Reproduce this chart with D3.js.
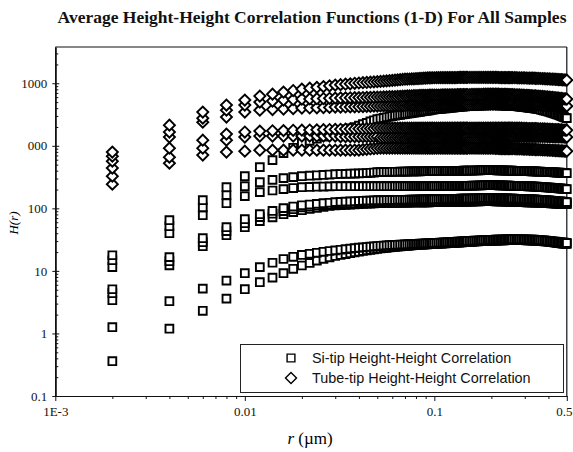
<!DOCTYPE html>
<html lang="en">
<head>
<meta charset="utf-8">
<title>Average Height-Height Correlation Functions</title>
<script src="https://cdnjs.cloudflare.com/ajax/libs/d3/7.8.5/d3.min.js"></script>
<style>
  body { margin: 0; background: #fff; }
  .tick text { font-family: "Liberation Serif", "Times New Roman", serif; font-size: 13px; fill: #111; }
  .tick line, .domain { stroke: #111; }
</style>
</head>
<body>
<script>
// sampled distances r (um), shared by every series
var rValues = [
  0.002,0.004,0.006,0.008,0.01,0.012,0.014,0.016,0.018,0.02,
  0.022,0.024,0.026,0.028,0.03,0.032,0.034,0.036,0.038,0.04,
  0.042,0.044,0.046,0.048,0.05,0.052,0.054,0.056,0.058,0.06,
  0.062,0.064,0.066,0.068,0.07,0.072,0.074,0.076,0.078,0.08,
  0.082,0.084,0.086,0.088,0.09,0.092,0.094,0.096,0.098,0.1,
  0.1025,0.105,0.1075,0.11,0.1125,0.115,0.1175,0.12,0.1225,0.125,
  0.1275,0.13,0.1325,0.135,0.1375,0.14,0.1425,0.145,0.1475,0.15,
  0.154,0.158,0.162,0.166,0.17,0.174,0.178,0.182,0.186,0.19,
  0.194,0.198,0.202,0.206,0.21,0.214,0.218,0.222,0.226,0.23,
  0.234,0.238,0.242,0.246,0.25,0.254,0.258,
  0.264,0.27,0.276,0.282,0.288,0.294,0.3,0.306,0.312,0.318,
  0.324,0.33,0.336,0.342,0.348,
  0.356,0.364,0.372,0.38,0.388,0.396,0.404,0.412,0.42,0.428,
  0.436,0.444,0.452,0.46,0.468,0.476,0.484,0.492,0.5
];

// Si-tip series (squares)
var siTip1 = [
  0.36,1.19,2.3,3.6,5.1,6.6,7.8,9.2,10.8,12.2,
  13.4,14.6,15.6,16.5,17.3,18,18.6,19.2,19.8,20.3,
  20.8,21.3,21.7,22.1,22.5,22.8,23.1,23.4,23.7,24,
  24.2,24.4,24.6,24.8,25,25.2,25.4,25.6,25.8,26,
  26.1,26.2,26.3,26.4,26.5,26.6,26.7,26.8,26.9,27,
  27.1,27.2,27.3,27.4,27.5,27.6,27.7,27.8,27.9,28,
  28.1,28.2,28.3,28.4,28.5,28.6,28.7,28.8,28.9,29,
  29.1,29.2,29.4,29.5,29.6,29.8,29.9,30,30.1,30.2,
  30.3,30.4,30.5,30.5,30.6,30.6,30.7,30.7,30.8,30.8,
  30.8,30.9,30.9,30.9,31,31,31,
  31,31,31,31,31,30.9,30.9,30.8,30.8,30.7,
  30.7,30.6,30.6,30.5,30.5,
  30.3,30.1,29.9,29.7,29.5,29.3,29.1,28.9,28.7,28.5,
  28.3,28.1,27.9,27.7,27.6,27.4,27.3,27.1,27
];
var siTip2 = [
  1.26,3.28,5.2,7,9.2,11.5,13.5,15.5,16.8,18,
  18.8,19.5,20.2,20.8,21.3,21.8,22.3,22.7,23.1,23.5,
  23.8,24.1,24.4,24.7,25,25.2,25.4,25.6,25.8,26,
  26.1,26.2,26.3,26.4,26.5,26.6,26.7,26.8,26.9,27,
  27.1,27.2,27.3,27.4,27.5,27.6,27.7,27.8,27.9,28,
  28.1,28.2,28.3,28.4,28.5,28.6,28.7,28.8,28.9,29,
  29.1,29.2,29.3,29.4,29.5,29.6,29.7,29.8,29.9,30,
  30.1,30.2,30.4,30.5,30.6,30.8,30.9,31,31.1,31.2,
  31.3,31.4,31.5,31.5,31.6,31.6,31.7,31.7,31.8,31.8,
  31.8,31.9,31.9,31.9,32,32,32,
  32,32,32,32,32,31.9,31.9,31.8,31.8,31.7,
  31.7,31.6,31.6,31.5,31.5,
  31.3,31.1,30.9,30.7,30.5,30.3,30.1,29.9,29.7,29.5,
  29.3,29.1,28.9,28.7,28.6,28.4,28.3,28.1,28
];
var siTip3 = [
  3.4,12.3,24.8,37.2,50,62.4,72,80.7,87,93.5,
  98,102,106,109,112,113,114,115,116,117,
  118,119,119,120,121,121,121,122,122,122,
  122,122,123,123,123,123,123,124,124,124,
  124,124,125,125,125,125,125,126,126,126,
  126,126,126,126,126,127,127,127,127,127,
  127,127,127,127,128,128,128,128,128,128,
  128,128,129,129,129,129,130,130,130,130,
  130,130,130,130,129,129,129,129,129,129,
  129,128,128,128,128,128,128,
  128,127,127,127,126,126,126,125,125,125,
  124,124,124,123,123,
  123,122,122,122,121,121,121,120,120,120,
  119,119,119,118,118,118,117,117,117
];
var siTip4 = [
  4.4,14.3,28.8,43.2,57.9,72.3,82,90.2,97,104,
  107,110,113,115,117,118,119,120,121,122,
  123,124,124,125,126,126,126,126,127,127,
  127,127,127,128,128,128,128,128,128,129,
  129,129,129,129,129,129,130,130,130,130,
  130,130,130,131,131,131,131,131,132,132,
  132,132,132,132,133,133,133,133,133,133,
  133,133,134,134,134,134,135,135,135,135,
  135,135,135,135,134,134,134,134,134,134,
  134,133,133,133,133,133,133,
  133,132,132,132,131,131,131,130,130,130,
  129,129,129,128,128,
  128,127,127,126,126,126,125,125,124,124,
  124,123,123,123,122,122,121,121,121
];
var siTip5 = [
  5.09,16.6,33.3,50,67.1,80.7,91,100.7,107,112,
  115,118,121,123,126,127,128,129,130,131,
  132,133,133,134,135,135,135,136,136,136,
  136,137,137,137,137,137,138,138,138,138,
  138,139,139,139,139,139,139,140,140,140,
  140,140,140,141,141,141,141,141,142,142,
  142,142,142,142,143,143,143,143,143,143,
  143,144,144,144,145,145,145,146,146,146,
  146,146,146,146,145,145,145,145,144,144,
  144,144,143,143,143,143,143,
  143,142,142,142,141,141,141,140,140,140,
  139,139,139,138,138,
  137,137,136,135,135,134,134,133,132,132,
  131,130,130,129,128,128,127,127,126
];
var siTip6 = [
  11.5,40.1,77.8,121,157,182,193,203,211,218,
  220,222,223,225,226,226,226,226,226,226,
  226,226,226,226,226,226,226,226,226,226,
  226,226,226,226,226,226,226,226,226,226,
  226,226,226,226,226,226,226,226,226,226,
  226,226,227,227,227,227,228,228,228,228,
  228,229,229,229,229,229,230,230,230,230,
  230,231,231,232,232,233,233,234,234,235,
  235,235,235,234,234,234,233,233,233,232,
  232,232,231,231,231,230,230,
  229,229,228,228,227,227,226,226,225,225,
  224,224,223,223,222,
  221,220,219,218,217,216,215,214,213,212,
  211,210,209,208,207,206,205,204,203
];
var siTip7 = [
  14.8,51.9,104,163,226,262,285,304,316,327,
  333,338,342,347,352,354,356,358,360,362,
  364,367,370,374,379,380,381,382,383,384,
  385,385,386,387,388,388,389,389,390,390,
  391,391,392,392,392,393,393,393,394,394,
  394,395,395,395,396,396,396,397,397,397,
  398,398,398,399,399,399,400,400,400,400,
  401,402,403,404,405,406,407,408,408,408,
  408,408,408,407,407,406,406,405,404,404,
  403,402,402,401,401,400,400,
  399,398,398,397,396,395,394,394,393,392,
  391,390,390,389,388,
  387,386,385,383,382,381,380,379,378,377,
  375,374,373,372,371,370,369,367,366
];
var siTip8 = [
  17.8,64.7,135,218,327,456,590,764,930,1100,
  1200,1300,1400,1560,1720,1780,1840,1900,2000,2100,
  2220,2330,2450,2560,2670,2730,2790,2860,2920,2990,
  3040,3090,3130,3180,3220,3260,3300,3340,3380,3420,
  3460,3500,3540,3580,3620,3660,3700,3740,3780,3820,
  3850,3880,3900,3930,3960,3980,4010,4040,4060,4090,
  4120,4140,4170,4190,4220,4240,4260,4280,4300,4320,
  4330,4340,4360,4370,4380,4400,4410,4420,4440,4450,
  4460,4470,4480,4480,4470,4460,4450,4440,4430,4420,
  4410,4400,4390,4380,4370,4360,4350,
  4320,4290,4260,4230,4200,4170,4140,4110,4080,4050,
  4020,3990,3960,3930,3900,
  3840,3780,3720,3660,3600,3540,3480,3420,3360,3290,
  3230,3170,3110,3050,2990,2930,2870,2810,2770
];

// Tube-tip series (diamonds)
var tubeTip1 = [
  793,2140,3460,4480,5380,6240,6700,7230,7650,8070,
  8350,8600,8850,9100,9360,9500,9650,9800,10000,10100,
  10200,10300,10400,10500,10600,10700,10800,10900,11000,11100,
  11200,11300,11400,11500,11600,11650,11700,11750,11800,11850,
  11900,11950,12000,12050,12100,12150,12200,12200,12250,12250,
  12260,12270,12280,12290,12300,12300,12310,12320,12330,12340,
  12340,12350,12360,12370,12380,12380,12390,12400,12400,12400,
  12400,12400,12400,12400,12400,12400,12400,12400,12400,12400,
  12400,12400,12400,12390,12380,12370,12360,12350,12340,12330,
  12320,12310,12300,12300,12300,12300,12300,
  12280,12260,12240,12220,12200,12180,12160,12140,12120,12100,
  12080,12060,12040,12020,12000,
  11960,11920,11880,11840,11800,11760,11720,11680,11640,11600,
  11560,11520,11480,11440,11400,11360,11320,11280,11250
];
var tubeTip2 = [
  684,1660,2770,3720,4480,5000,5200,5380,5480,5580,
  5620,5660,5700,5750,5800,5820,5840,5860,5880,5900,
  5920,5940,5960,5980,6010,6030,6050,6070,6090,6110,
  6130,6150,6180,6210,6240,6260,6280,6300,6320,6340,
  6360,6380,6400,6410,6420,6430,6440,6450,6460,6470,
  6480,6490,6490,6500,6510,6510,6520,6530,6530,6540,
  6550,6550,6560,6570,6570,6580,6590,6590,6600,6600,
  6610,6620,6630,6640,6650,6660,6670,6680,6690,6700,
  6710,6710,6710,6700,6700,6690,6680,6670,6660,6650,
  6640,6630,6620,6610,6600,6600,6600,
  6580,6550,6530,6500,6480,6450,6430,6400,6380,6350,
  6330,6300,6280,6260,6250,
  6220,6180,6150,6110,6080,6040,6000,5970,5930,5900,
  5860,5820,5790,5750,5720,5680,5650,5610,5580
];
var tubeTip3 = [
  569,1380,2390,2880,3460,3720,3790,3860,3930,4010,
  4030,4050,4080,4110,4160,4170,4180,4190,4200,4220,
  4240,4260,4280,4300,4320,4330,4340,4350,4360,4370,
  4380,4390,4400,4400,4410,4410,4420,4420,4430,4430,
  4440,4440,4450,4450,4460,4460,4470,4470,4480,4480,
  4480,4490,4490,4500,4500,4510,4510,4520,4520,4530,
  4530,4540,4540,4550,4550,4550,4560,4560,4560,4560,
  4570,4580,4590,4600,4610,4620,4630,4640,4650,4650,
  4650,4650,4650,4650,4650,4650,4650,4650,4650,4650,
  4650,4650,4650,4650,4650,4650,4650,
  4640,4630,4620,4610,4600,4590,4580,4570,4560,4550,
  4540,4530,4520,4510,4500,
  4490,4480,4470,4460,4450,4440,4430,4420,4410,4400,
  4390,4380,4370,4360,4350,4340,4330,4320,4320
];
var tubeTip4 = [
  440,918,1230,1540,1660,1720,1740,1750,1770,1780,
  1790,1800,1810,1820,1830,1840,1850,1860,1860,1870,
  1870,1880,1890,1900,1920,1920,1920,1920,1920,1920,
  1920,1920,1920,1920,1920,1920,1920,1920,1920,1920,
  1920,1920,1920,1920,1920,1920,1920,1920,1920,1920,
  1920,1920,1920,1920,1920,1920,1920,1920,1920,1920,
  1920,1920,1920,1920,1920,1920,1920,1920,1920,1920,
  1920,1920,1920,1920,1920,1920,1920,1920,1920,1920,
  1920,1920,1920,1920,1920,1920,1920,1920,1920,1920,
  1920,1920,1920,1920,1920,1920,1920,
  1920,1920,1910,1910,1910,1900,1900,1900,1890,1890,
  1890,1880,1880,1880,1880,
  1870,1870,1860,1860,1850,1850,1840,1840,1830,1820,
  1820,1810,1810,1800,1800,1790,1790,1780,1780
];
var tubeTip5 = [
  327,659,918,1230,1380,1430,1430,1430,1430,1430,
  1430,1430,1430,1430,1430,1400,1400,1400,1400,1400,
  1400,1400,1400,1400,1400,1350,1350,1350,1350,1350,
  1350,1350,1350,1350,1350,1350,1350,1350,1350,1350,
  1350,1350,1350,1350,1350,1350,1350,1350,1350,1350,
  1350,1350,1350,1350,1350,1350,1350,1350,1350,1350,
  1350,1350,1350,1350,1350,1350,1350,1350,1350,1350,
  1350,1350,1355,1360,1360,1365,1370,1370,1375,1380,
  1380,1385,1390,1390,1395,1400,1400,1400,1400,1400,
  1400,1400,1400,1400,1400,1400,1400,
  1400,1405,1405,1410,1410,1410,1415,1415,1415,1420,
  1420,1420,1420,1420,1420,
  1420,1415,1415,1410,1410,1405,1405,1400,1400,1395,
  1395,1390,1390,1390,1385,1385,1380,1380,1380
];
var tubeTip6 = [
  244,528,710,793,822,853,853,853,853,853,
  853,853,853,853,853,853,853,853,853,853,
  870,880,890,900,910,918,918,918,918,918,
  918,918,918,918,918,918,918,918,918,918,
  918,918,918,918,918,918,918,918,918,918,
  918,918,918,918,918,918,918,918,918,918,
  918,918,918,918,918,918,918,918,918,918,
  918,918,918,918,918,918,918,918,918,918,
  918,918,918,915,912,910,908,905,903,900,
  900,900,900,900,900,900,900,
  898,896,894,892,890,888,886,884,882,880,
  878,876,874,872,870,
  867,865,862,860,857,854,851,849,846,843,
  840,838,835,832,830,827,825,822,822
];

var xMajorTicks = [0.001, 0.01, 0.1, 0.5];
var xTickLabels = ["1E-3", "0.01", "0.1", "0.5"];
var xMinorTicks = [0.002,0.003,0.004,0.005,0.006,0.007,0.008,0.009,
                   0.02,0.03,0.04,0.05,0.06,0.07,0.08,0.09,0.2,0.3,0.4];
var yMajorTicks = [0.1, 1, 10, 100, 1000, 10000];
var yTickLabels = ["0.1", "1", "10", "100", "000", "1000"];
var yMinorTicks = [0.2,0.3,0.4,0.5,0.6,0.7,0.8,0.9,2,3,4,5,6,7,8,9,
                   20,30,40,50,60,70,80,90,200,300,400,500,600,700,800,900,
                   2000,3000,4000,5000,6000,7000,8000,9000,20000,30000];

var legendLabels = ["Si-tip Height-Height Correlation", "Tube-tip Height-Height Correlation"];

var w = 573, h = 452;
var plotLeft = 55.3, plotRight = 566.8, plotTop = 47, plotBottom = 396;

var svg = d3.select("body").append("svg")
  .attr("width", w)
  .attr("height", h);

var x = d3.scaleLog().domain([0.001, 0.5]).range([plotLeft, plotRight]);
var y = d3.scaleLog().domain([0.1, 38000]).range([plotBottom, plotTop]);

// title
svg.append("text")
  .attr("x", 312)
  .attr("y", 23)
  .attr("text-anchor", "middle")
  .style("font-family", "'Liberation Serif', serif")
  .style("font-weight", "bold")
  .style("font-size", "17.5px")
  .style("fill", "#111")
  .text("Average Height-Height Correlation Functions (1-D) For All Samples");

// frame (top and right)
svg.append("line").attr("x1", plotLeft).attr("x2", plotRight).attr("y1", plotTop).attr("y2", plotTop)
  .style("stroke", "#111").style("stroke-width", 1.2);
svg.append("line").attr("x1", plotRight).attr("x2", plotRight).attr("y1", plotTop).attr("y2", plotBottom)
  .style("stroke", "#111").style("stroke-width", 1.2);

// x axis
svg.append("g")
  .attr("transform", "translate(0," + plotBottom + ")")
  .call(d3.axisBottom(x).tickValues(xMinorTicks).tickSize(3).tickSizeOuter(0).tickFormat(""));
var xAxisG = svg.append("g")
  .attr("transform", "translate(0," + plotBottom + ")")
  .call(d3.axisBottom(x).tickValues(xMajorTicks).tickSize(5).tickSizeOuter(0).tickPadding(6)
    .tickFormat(function(d, i) { return xTickLabels[i]; }));
// keep the last label inside the page
xAxisG.selectAll(".tick text").filter(function(d) { return d === 0.5; }).attr("dx", -3);

// y axis
svg.append("g")
  .attr("transform", "translate(" + plotLeft + ",0)")
  .call(d3.axisRight(y).tickValues(yMinorTicks).tickSize(3).tickSizeOuter(0).tickFormat(""));
svg.append("g")
  .attr("transform", "translate(" + plotLeft + ",0)")
  .call(d3.axisRight(y).tickValues(yMajorTicks).tickSize(4).tickSizeOuter(0).tickFormat(""));
svg.append("g")
  .attr("transform", "translate(" + plotLeft + ",0)")
  .call(d3.axisLeft(y).tickValues(yMajorTicks).tickSize(3).tickSizeOuter(0).tickPadding(5)
    .tickFormat(function(d, i) { return yTickLabels[i]; }));

svg.selectAll(".domain").style("stroke-width", 1.2);

// axis titles
svg.append("text")
  .attr("transform", "translate(18,223) rotate(-90)")
  .attr("text-anchor", "middle")
  .style("font-family", "'Liberation Serif', serif")
  .style("font-style", "italic")
  .style("font-size", "13px")
  .text("H(r)");

var xt = svg.append("text")
  .attr("x", 310)
  .attr("y", 444)
  .attr("text-anchor", "middle")
  .style("font-family", "'Liberation Serif', serif")
  .style("font-size", "17px");
xt.append("tspan").style("font-style", "italic").text("r");
xt.append("tspan").text(" (\u00b5m)");

// markers: same square, the diamond is it turned by 45 degrees
var markerPath = d3.symbol().type(d3.symbolSquare).size(61)();
var markerStroke = 1.9;

var series = [
  { values: siTip1, shape: "square" },
  { values: siTip2, shape: "square" },
  { values: siTip3, shape: "square" },
  { values: siTip4, shape: "square" },
  { values: siTip5, shape: "square" },
  { values: siTip6, shape: "square" },
  { values: siTip7, shape: "square" },
  { values: siTip8, shape: "square" },
  { values: tubeTip6, shape: "diamond" },
  { values: tubeTip5, shape: "diamond" },
  { values: tubeTip4, shape: "diamond" },
  { values: tubeTip3, shape: "diamond" },
  { values: tubeTip2, shape: "diamond" },
  { values: tubeTip1, shape: "diamond" }
];

series.forEach(function(s) {
  var pts = [];
  for (var i = 0; i < rValues.length; i++) {
    if (s.values[i] !== undefined) pts.push({ r: rValues[i], v: s.values[i] });
  }
  svg.append("g")
    .selectAll("path")
    .data(pts)
    .enter()
    .append("path")
    .attr("d", markerPath)
    .attr("transform", function(d) {
      var t = "translate(" + x(d.r) + "," + y(d.v) + ")";
      return s.shape === "diamond" ? t + " rotate(45)" : t;
    })
    .style("fill", "#fff")
    .style("stroke", "#000")
    .style("stroke-width", markerStroke);
});

// legend
var legend = svg.append("g");
legend.append("rect")
  .attr("x", 240.5).attr("y", 344.5)
  .attr("width", 323).attr("height", 48)
  .style("fill", "#fff")
  .style("stroke", "#222")
  .style("stroke-width", 1);

legend.selectAll("path")
  .data(legendLabels)
  .enter()
  .append("path")
  .attr("d", markerPath)
  .attr("transform", function(d, i) {
    var t = "translate(291," + (358 + i * 20) + ")";
    return i === 1 ? t + " rotate(45)" : t;
  })
  .style("fill", "#fff")
  .style("stroke", "#000")
  .style("stroke-width", 1.4);

legend.selectAll("text")
  .data(legendLabels)
  .enter()
  .append("text")
  .attr("x", 312)
  .attr("y", function(d, i) { return 363 + i * 20; })
  .style("font-family", "'Liberation Sans', Arial, sans-serif")
  .style("font-size", "14.4px")
  .style("fill", "#111")
  .text(function(d) { return d; });
</script>
</body>
</html>
